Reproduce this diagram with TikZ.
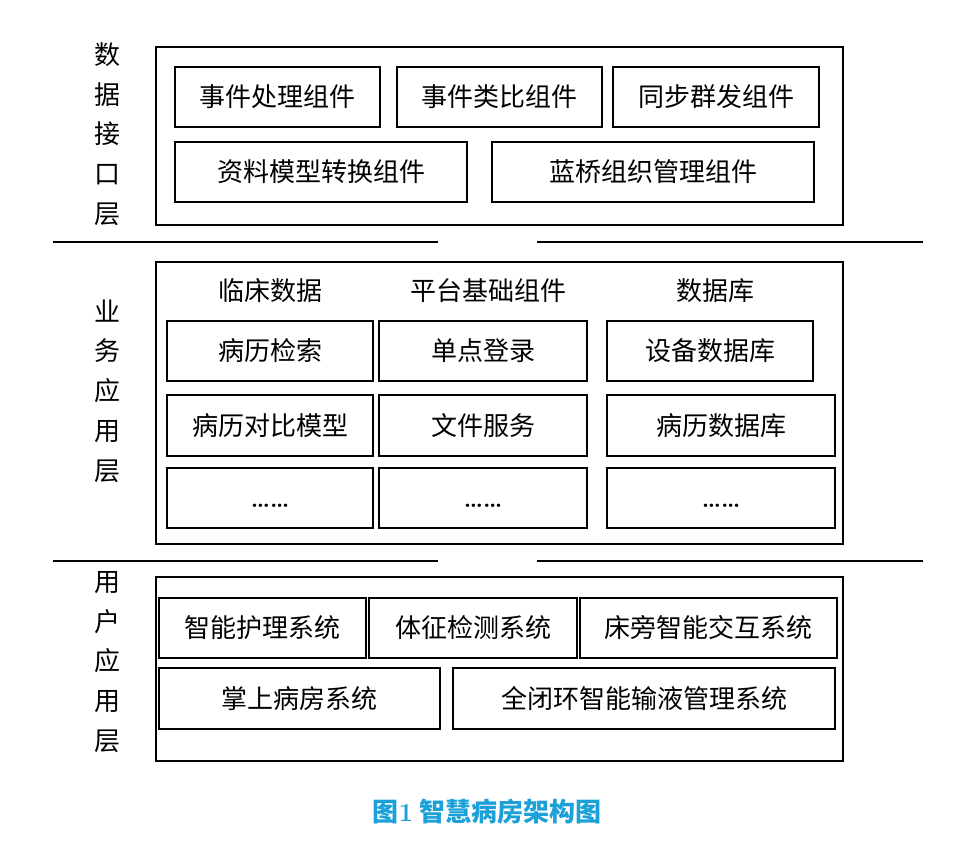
\documentclass[tikz,border=0pt]{standalone}
\usepackage{fontspec}
\newfontfamily\cjk{Noto Sans CJK SC}
\usetikzlibrary{positioning}
\definecolor{capblue}{RGB}{27,160,215}

\begin{document}
\begin{tikzpicture}[x=1pt,y=-1pt,line width=2pt,
  every node/.style={font=\cjk\fontsize{26}{39.7}\selectfont,outer sep=0pt},
  layer/.style={draw,inner sep=0pt,minimum width=687pt},
  item/.style={draw,inner sep=0pt,minimum height=60pt},
  dots/.style={item,font=\fontsize{24}{26}\selectfont\bfseries,text height=18pt,text depth=0pt},
  side/.style={align=center,inner sep=0pt}]
\useasboundingbox (0,0) rectangle (960,861);

% data interface layer
\node[layer, minimum height=178pt] (dlayer) at (499.5,136) {};
\node[side] (dlabel) at (107,134) {数\\据\\接\\口\\层};
\node[item, minimum width=205pt] (evproc) at (277.5,97) {事件处理组件};
\node[item, minimum width=205pt, right=17pt of evproc] (evcomp) {事件类比组件};
\node[item, minimum width=206pt, right=11pt of evcomp] (sync) {同步群发组件};
\node[item, minimum width=292pt] (convert) at (321,172) {资料模型转换组件};
\node[item, minimum width=322pt, right=25pt of convert] (bridge) {蓝桥组织管理组件};

\foreach \y in {242,561} {
  \draw (53,\y) -- (438,\y);
  \draw (537,\y) -- (923,\y);
}

% business application layer
\node[layer, minimum height=282pt] (blayer) at (499.5,403) {};
\node[side] (blabel) at (107,391) {业\\务\\应\\用\\层};
\node (hclin) at (270,291) {临床数据};
\node (hbase) at (488,291) {平台基础组件};
\node (hdb) at (715,291) {数据库};
\node[item, minimum width=206pt] (search) at (270,351) {病历检索};
\node[item, minimum width=208pt, right=6pt of search] (sso) {单点登录};
\node[item, minimum width=206pt, right=20pt of sso] (devdb) {设备数据库};
\node[item, minimum width=206pt, minimum height=61pt, below=14pt of search] (model) {病历对比模型};
\node[item, minimum width=208pt, minimum height=61pt, right=6pt of model] (files) {文件服务};
\node[item, minimum width=228pt, minimum height=61pt, right=20pt of files] (recdb) {病历数据库};
\node[dots, minimum width=206pt, below=12pt of model] (more1) {\ldots\ldots};
\node[dots, minimum width=208pt, right=6pt of more1] (more2) {\ldots\ldots};
\node[dots, minimum width=228pt, right=20pt of more2] (more3) {\ldots\ldots};

% user application layer
\node[layer, minimum height=184pt] (ulayer) at (499.5,669) {};
\node[side] (ulabel) at (107,662) {用\\户\\应\\用\\层};
\node[item, minimum width=207pt] (nurse) at (262.5,628) {智能护理系统};
\node[item, minimum width=208pt, right=3pt of nurse] (vital) {体征检测系统};
\node[item, minimum width=257pt, right=3pt of vital] (bedside) {床旁智能交互系统};
\node[item, minimum width=281pt, minimum height=61pt] (palm) at (299.5,698.5) {掌上病房系统};
\node[item, minimum width=382pt, minimum height=61pt, right=13pt of palm] (infuse) {全闭环智能输液管理系统};

\node[text=capblue, font=\cjk\fontsize{26}{30}\selectfont\bfseries] (caption) at (487,812) {图{\rmfamily 1} 智慧病房架构图};
\end{tikzpicture}
\end{document}
